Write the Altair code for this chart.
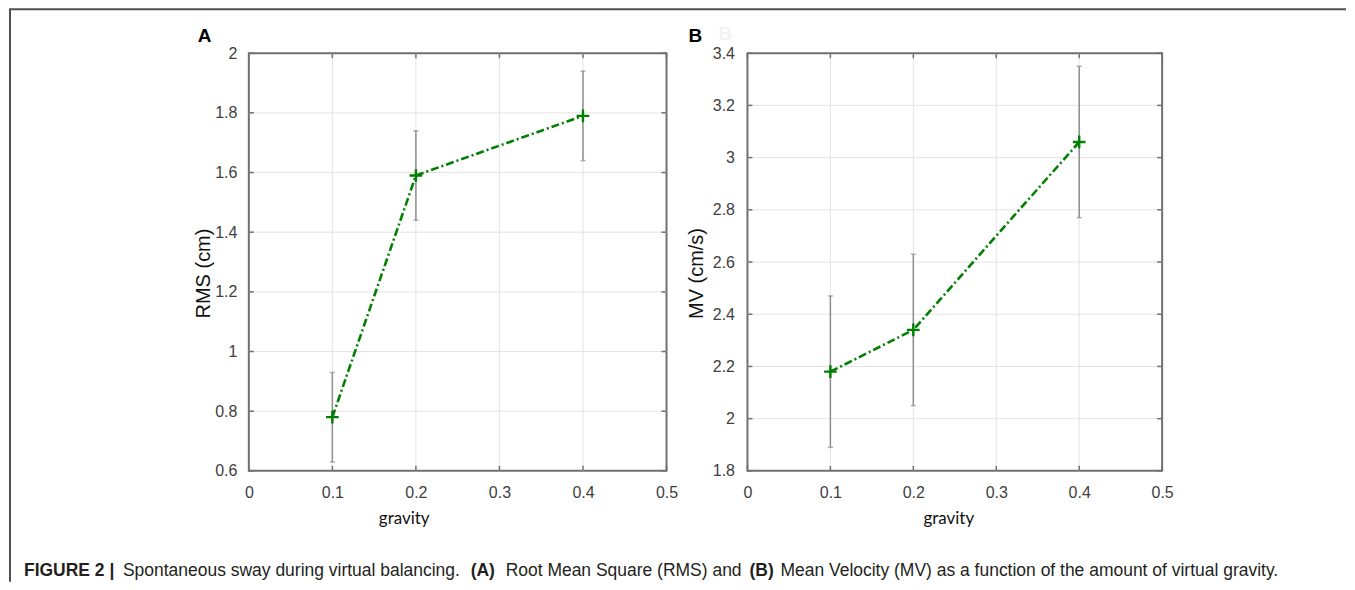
import altair as alt
import pandas as pd

# ---------------- data ----------------
gravity = [0.1, 0.2, 0.4]
rms_mean = [0.78, 1.59, 1.79]
rms_low = [0.63, 1.44, 1.64]
rms_high = [0.93, 1.74, 1.94]
mv_mean = [2.18, 2.34, 3.06]
mv_low = [1.89, 2.05, 2.77]
mv_high = [2.47, 2.63, 3.35]

x_ticks = [0, 0.1, 0.2, 0.3, 0.4, 0.5]
rms_ticks = [0.6, 0.8, 1, 1.2, 1.4, 1.6, 1.8, 2]
mv_ticks = [1.8, 2, 2.2, 2.4, 2.6, 2.8, 3, 3.2, 3.4]

panel_letters = ["A", "B"]
y_titles = ["RMS (cm)", "MV (cm/s)"]
x_title = "gravity"
caption_texts = [
    "FIGURE 2 |",
    "Spontaneous sway during virtual balancing.",
    "(A)",
    "Root Mean Square (RMS) and",
    "(B)",
    "Mean Velocity (MV) as a function of the amount of virtual gravity.",
]
caption_bold = [True, False, True, False, True, False]

# ---------------- style ----------------
GREEN = "#008000"
FRAME = "#707070"
GRID = "#e4e4e4"
ERR = "#8e8e8e"
W = 1338
TOP = 44          # distance from figure top line to plot area top
PH = 418
PW_A, PW_B = 418, 415
BOTTOM = 529      # figure bottom, measured from plot area top
dummy = pd.DataFrame({"d": [0]})


def panel(mean, low, high, yticks, ytitle, pw, ytitle_x, ylabel_pad, xtitle_x):
    df = pd.DataFrame({"gravity": gravity, "mean": mean, "low": low, "high": high})
    xt_all = pd.DataFrame({"xv": x_ticks})
    yt_all = pd.DataFrame({"yv": yticks})
    xt_in = pd.DataFrame({"xv": x_ticks[1:-1]})
    yt_in = pd.DataFrame({"yv": yticks[1:-1]})
    xs = alt.Scale(domain=[x_ticks[0], x_ticks[-1]], nice=False, zero=False)
    ys = alt.Scale(domain=[yticks[0], yticks[-1]], nice=False, zero=False)

    xaxis = alt.Axis(values=x_ticks, format="~g", grid=False, ticks=False, tickSize=0,
                     domain=False, labelPadding=14, labelFlush=False, labelOverlap=False,
                     labelFont="Liberation Sans",
                     labelFontSize=16, labelColor="#404040", title=x_title,
                     titleFont="Lato", titleFontSize=17, titleFontWeight="normal",
                     titleColor="#111111", titleX=xtitle_x, titleY=48,
                     titleBaseline="middle", titleAlign="center")
    yaxis = alt.Axis(values=yticks, format="~g", grid=False, ticks=False, tickSize=0,
                     domain=False, labelPadding=ylabel_pad, labelFlush=False,
                     labelOverlap=False, labelFont="Liberation Sans",
                     labelFontSize=16, labelColor="#404040", title=ytitle,
                     titleFont="Liberation Sans", titleFontSize=20,
                     titleFontWeight="normal", titleColor="#111111",
                     titleX=ytitle_x, titleY=220, titleBaseline="middle",
                     titleAlign="center")

    def X(f):
        return alt.X(f, type="quantitative", scale=xs, axis=xaxis)

    def Y(f):
        return alt.Y(f, type="quantitative", scale=ys, axis=yaxis)

    gx = alt.Chart(xt_in).mark_rule(color=GRID, strokeWidth=1).encode(x=X("xv"))
    gy = alt.Chart(yt_in).mark_rule(color=GRID, strokeWidth=1).encode(y=Y("yv"))

    tx_top = alt.Chart(xt_all).mark_rule(color=FRAME, strokeWidth=1.5).encode(
        x=X("xv"), y=alt.value(0), y2=alt.value(5))
    tx_bot = alt.Chart(xt_all).mark_rule(color=FRAME, strokeWidth=1.5).encode(
        x=X("xv"), y=alt.value(PH - 5), y2=alt.value(PH))
    ty_l = alt.Chart(yt_all).mark_rule(color=FRAME, strokeWidth=1.5).encode(
        y=Y("yv"), x=alt.value(0), x2=alt.value(5))
    ty_r = alt.Chart(yt_all).mark_rule(color=FRAME, strokeWidth=1.5).encode(
        y=Y("yv"), x=alt.value(pw - 5), x2=alt.value(pw))

    base = alt.Chart(df)
    err = base.mark_rule(color=ERR, strokeWidth=1.5).encode(
        x=X("gravity"), y=Y("low"), y2="high:Q")
    cap_lo = base.mark_tick(color=ERR, orient="horizontal", size=5, thickness=1.5).encode(
        x=X("gravity"), y=Y("low"))
    cap_hi = base.mark_tick(color=ERR, orient="horizontal", size=5, thickness=1.5).encode(
        x=X("gravity"), y=Y("high"))
    line = base.mark_line(color=GREEN, strokeWidth=2.6, strokeDash=[8, 3, 2, 3]).encode(
        x=X("gravity"), y=Y("mean"))
    pts = base.mark_point(shape="M-1,0L1,0M0,-1L0,1", size=160, filled=False,
                          strokeWidth=2.4, color=GREEN, opacity=1).encode(
        x=X("gravity"), y=Y("mean"))

    return alt.layer(gx, gy, tx_top, tx_bot, ty_l, ty_r, err, cap_lo, cap_hi, line, pts).properties(
        width=pw, height=PH,
        view=alt.ViewBackground(stroke=FRAME, strokeWidth=2))


panel_a = panel(rms_mean, rms_low, rms_high, rms_ticks, y_titles[0], PW_A, -45, 12, 155)
panel_b = panel(mv_mean, mv_low, mv_high, mv_ticks, y_titles[1], PW_B, -51, 13, 201)

# ---------------- left spacer cell: figure frame, panel letters, caption ----------------
frame_col = "#505050"
layers = [
    alt.Chart(dummy).mark_rule(color=frame_col, strokeWidth=2).encode(
        x=alt.value(0), x2=alt.value(W), y=alt.value(-TOP)),
    alt.Chart(dummy).mark_rule(color=frame_col, strokeWidth=2).encode(
        x=alt.value(1), y=alt.value(-TOP), y2=alt.value(BOTTOM)),
]
for letter, lx, col, ly in [(panel_letters[0], 189, "#000000", -11),
                            (panel_letters[1], 680, "#000000", -11),
                            (panel_letters[1], 710, "#f3f3f3", -13)]:
    layers.append(
        alt.Chart(dummy).mark_text(align="left", baseline="alphabetic", font="Liberation Sans",
                                   fontSize=19, fontWeight="bold", color=col).encode(
            x=alt.value(lx), y=alt.value(ly), text=alt.value(letter)))

cap_x = [15, 114, 462, 497, 741, 772]
for txt, bold, cx in zip(caption_texts, caption_bold, cap_x):
    layers.append(
        alt.Chart(dummy).mark_text(align="left", baseline="alphabetic", font="Liberation Sans",
                                   fontSize=17.5, fontWeight="bold" if bold else "normal",
                                   color="#231f20").encode(
            x=alt.value(cx), y=alt.value(523), text=alt.value(txt)))

spacer = alt.layer(*layers).properties(width=159, height=PH)

chart = alt.hconcat(spacer, panel_a, panel_b, spacing=81, bounds="flush").properties(
    padding=0, background="white"
).configure_view(stroke=None)

chart.save("out.html", embed_options={"renderer": "svg", "actions": False})
